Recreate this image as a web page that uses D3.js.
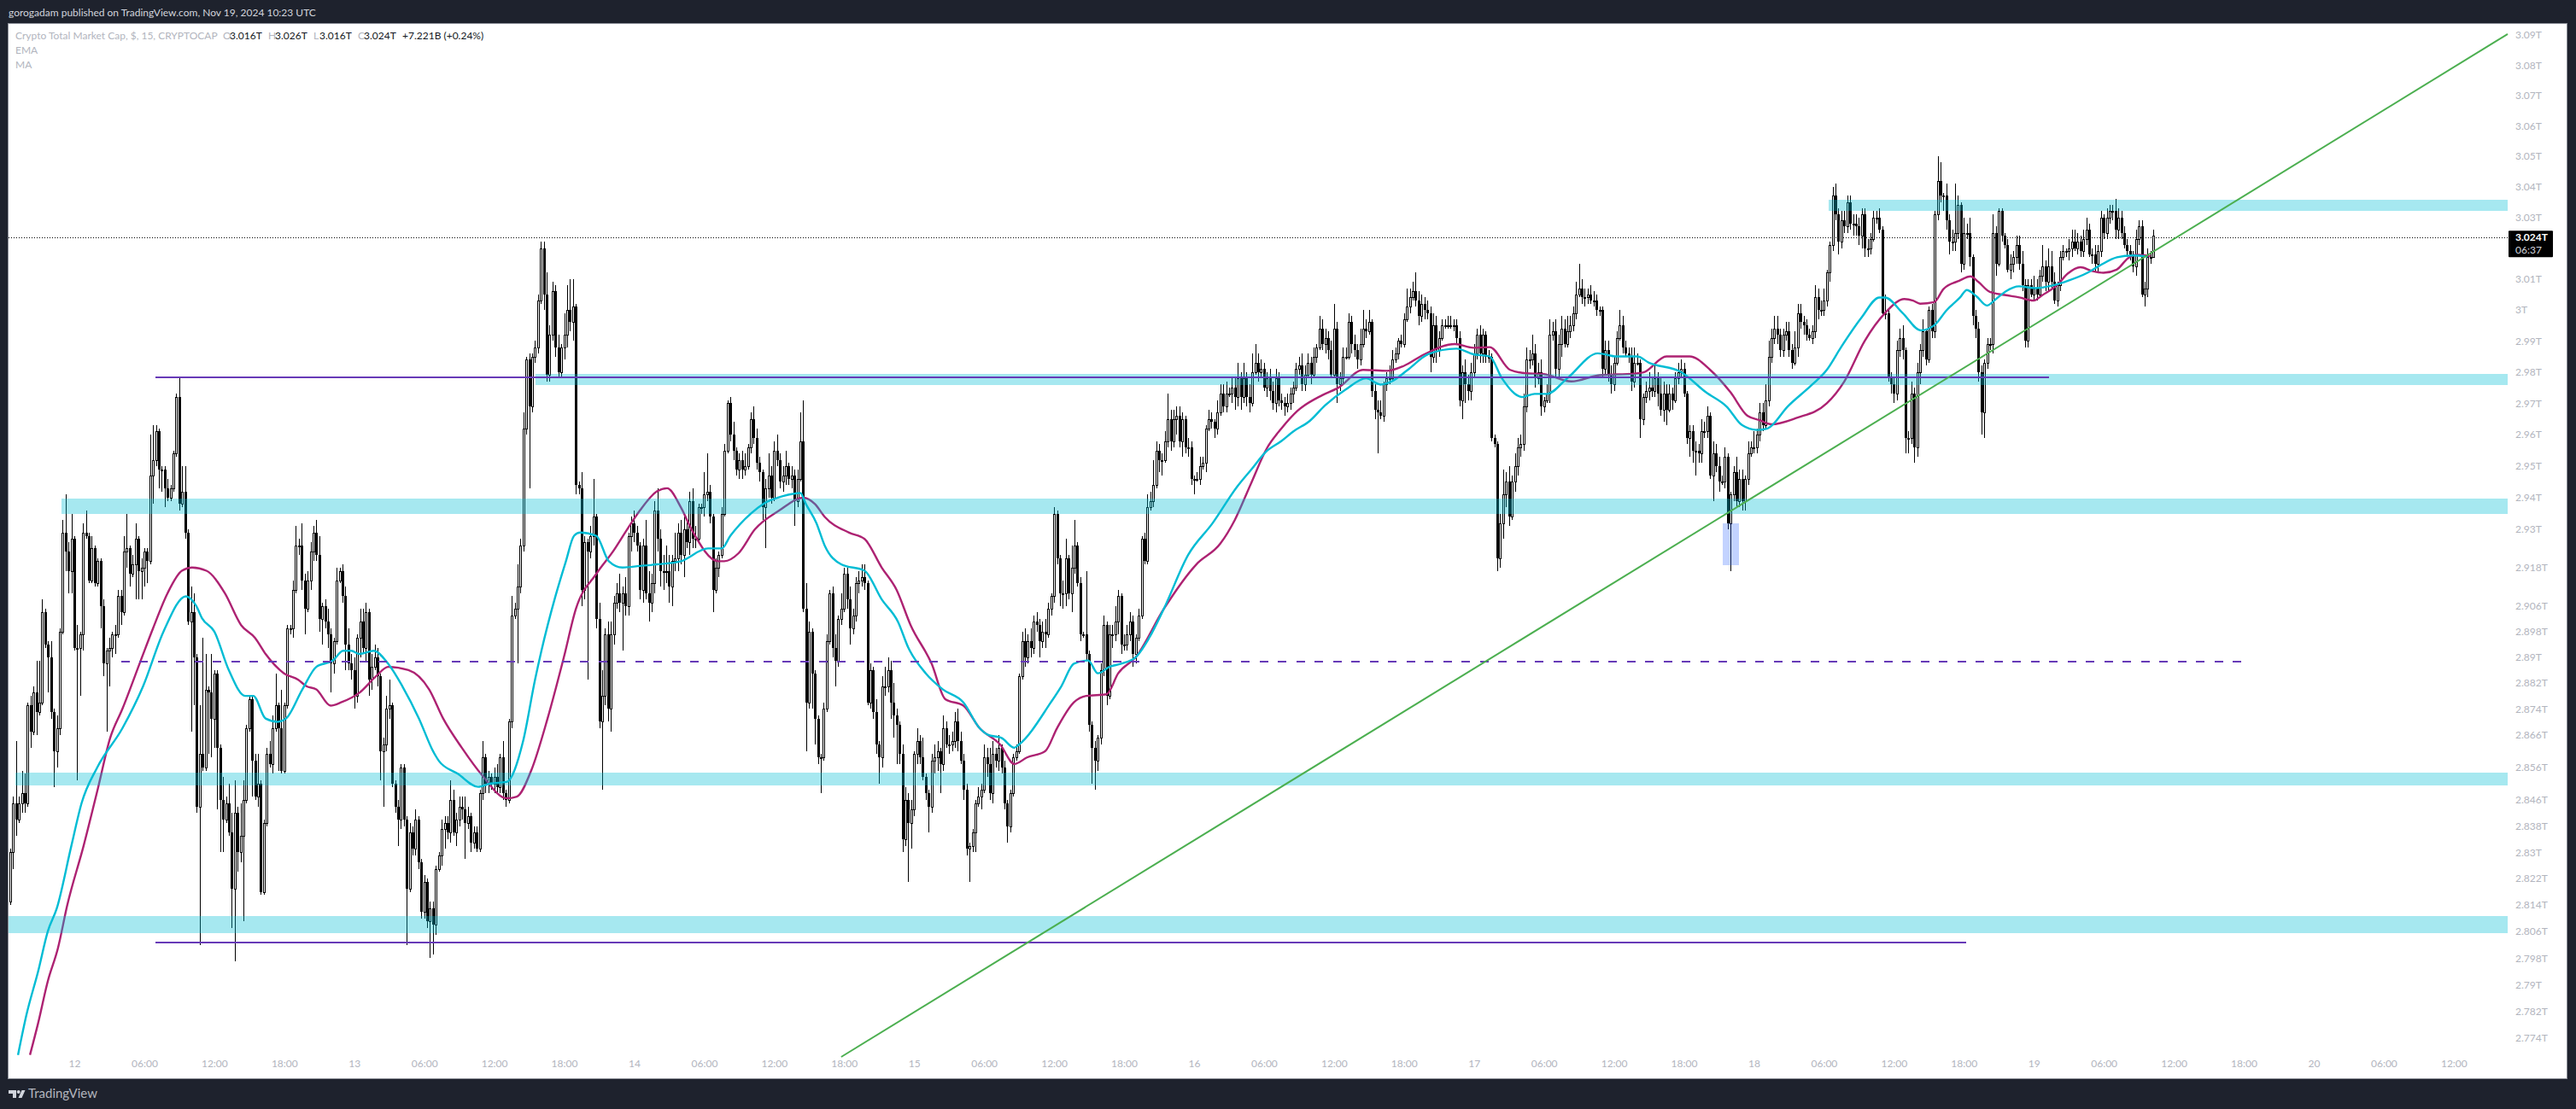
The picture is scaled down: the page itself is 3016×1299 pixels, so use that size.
<!DOCTYPE html>
<html>
<head>
<meta charset="utf-8">
<script src="https://cdn.jsdelivr.net/npm/d3@7"></script>
<style>
  html, body { margin: 0; background: #1e222d; }
  svg { display: block; }
  text { font-family: Lato, "Noto Sans", sans-serif; font-size: 12px; }
</style>
</head>
<body>
<div class="chart"></div>
<script>
// all prices in billions, one bar = 15 minutes, first bar Nov 11 18:30
const firstOpen = 2815;
const closes = [
2830,2845,2840,2845,2848,2845,2875,2867,2879,2873,2876,2904,2894,2890,2873,2861,2868,2898,2929,2923,
2917,2927,2893,2893,2897,2929,2928,2914,2924,2913,2920,2906,2888,2892,2893,2897,2897,2909,2904,2923,
2924,2916,2919,2927,2917,2918,2923,2920,2947,2952,2961,2949,2949,2943,2940,2943,2954,2972,2938,2942,
2929,2901,2904,2890,2844,2860,2856,2880,2879,2871,2885,2862,2846,2840,2845,2836,2819,2842,2830,2835,
2846,2868,2877,2858,2847,2851,2818,2839,2860,2857,2868,2875,2868,2855,2875,2899,2899,2911,2925,2925,
2914,2905,2914,2923,2929,2922,2902,2906,2901,2897,2888,2895,2914,2917,2909,2894,2888,2886,2878,2896,
2901,2893,2904,2883,2887,2890,2884,2861,2863,2874,2875,2851,2844,2840,2856,2840,2819,2836,2831,2840,
2827,2812,2821,2809,2813,2808,2825,2829,2837,2839,2836,2846,2836,2840,2844,2843,2839,2841,2833,2836,
2831,2848,2859,2851,2853,2851,2853,2850,2859,2848,2846,2870,2903,2905,2912,2925,2962,2984,2969,2985,
2988,3003,3020,3005,2979,2992,3006,2988,2980,2988,2992,3000,2996,3001,2944,2943,2911,2926,2923,2928,
2934,2902,2870,2878,2897,2874,2897,2907,2910,2907,2910,2906,2928,2932,2929,2925,2911,2925,2910,2907,
2913,2936,2927,2917,2917,2917,2912,2920,2921,2929,2922,2930,2926,2939,2927,2927,2937,2937,2941,2942,
2934,2911,2918,2922,2935,2955,2970,2960,2955,2949,2952,2949,2950,2956,2965,2959,2951,2948,2937,2943,
2947,2940,2955,2952,2945,2947,2950,2946,2947,2939,2946,2958,2905,2876,2898,2885,2871,2859,2859,2874,
2895,2910,2893,2889,2902,2905,2916,2908,2899,2903,2913,2914,2915,2913,2876,2886,2873,2863,2859,2881,
2881,2886,2876,2872,2869,2860,2834,2846,2839,2843,2860,2864,2859,2853,2848,2844,2858,2859,2861,2857,
2868,2863,2863,2864,2870,2864,2858,2849,2831,2832,2836,2845,2847,2849,2859,2857,2848,2860,2858,2862,
2856,2845,2838,2848,2859,2861,2884,2895,2890,2895,2893,2901,2900,2895,2898,2897,2905,2909,2935,2921,
2910,2910,2921,2910,2918,2925,2913,2897,2897,2891,2869,2862,2858,2865,2886,2900,2878,2897,2897,2901,
2909,2894,2894,2897,2901,2891,2896,2903,2927,2920,2937,2939,2944,2955,2952,2952,2958,2965,2958,2965,
2966,2958,2965,2956,2956,2946,2946,2946,2950,2951,2962,2965,2964,2962,2967,2973,2969,2973,2973,2975,
2972,2978,2972,2978,2972,2970,2980,2983,2980,2981,2975,2978,2974,2970,2978,2971,2970,2969,2970,2973,
2975,2981,2982,2976,2979,2983,2979,2985,2988,2994,2989,2991,2987,2979,2994,2976,2978,2985,2985,2996,
2989,2987,2984,2989,2994,2993,2996,2974,2968,2967,2966,2976,2978,2978,2984,2986,2990,2989,2997,3001,
3004,3006,3003,2998,3002,3000,2999,2985,2995,2987,2991,2995,2995,2995,2995,2995,2991,2971,2980,2976,
2974,2980,2986,2992,2986,2992,2985,2985,2959,2957,2921,2932,2941,2945,2934,2945,2950,2956,2957,2969,
2984,2984,2986,2978,2980,2969,2971,2973,2992,2993,2981,2989,2994,2989,2993,2995,2999,3005,3007,3004,
3004,3005,3003,3003,3000,3000,2981,2987,2979,2976,2983,2991,2995,2988,2986,2985,2977,2983,2983,2965,
2972,2974,2975,2974,2978,2973,2968,2973,2968,2973,2971,2978,2980,2981,2973,2959,2961,2955,2955,2954,
2961,2961,2966,2947,2954,2950,2945,2945,2953,2932,2941,2948,2939,2946,2939,2946,2954,2956,2956,2960,
2967,2963,2971,2985,2991,2994,2992,2987,2992,2993,2987,2983,2988,2999,2996,2995,2992,2991,2993,3004,
3000,3000,3003,3012,3021,3037,3031,3022,3029,3027,3035,3028,3028,3027,3024,3031,3020,3020,3023,3030,
3030,3026,2999,2999,2978,2976,2973,2987,2991,2987,2959,2959,2973,2956,2980,2987,2993,2984,3000,2993,
3031,3042,3037,3037,3029,3022,3022,3025,3034,3015,3025,3025,3017,2998,2994,2980,2967,2983,2989,2989,
3025,3015,3032,3024,3021,3013,3015,3017,3021,3015,3008,2990,3008,3005,3007,3005,3011,3014,3009,3014,
3009,3003,3008,3017,3019,3019,3020,3022,3020,3022,3019,3023,3026,3018,3018,3015,3019,3030,3025,3030,
3032,3032,3026,3030,3025,3021,3019,3018,3014,3023,3027,3005,3007,3017,3017,3024
];
const upperWicks = [
1,2,19,2,7,6,1,3,2,10,13,4,1,1,5,1,4,1,4,12,
3,8,1,7,1,3,7,1,4,1,1,1,2,1,3,1,3,2,2,5,
11,1,3,5,1,3,1,1,13,11,2,1,1,1,3,1,1,1,6,8,
8,1,8,6,1,15,36,11,1,12,1,1,1,7,2,6,6,10,2,10,
6,1,1,1,2,9,1,1,2,4,4,10,1,12,1,1,1,3,6,2,
7,2,3,3,2,4,6,1,2,4,2,1,4,1,2,3,5,3,4,1,
4,4,3,1,4,4,3,1,2,4,8,1,1,2,1,1,1,3,2,3,
1,1,2,1,2,2,1,1,3,2,2,6,3,2,3,3,4,3,1,2,
2,1,5,1,2,1,3,4,1,5,1,1,6,2,7,2,5,1,2,1,
2,2,2,2,7,3,3,2,4,1,7,8,10,9,1,1,5,2,1,3,
12,1,5,8,2,4,4,2,3,6,2,5,1,2,4,2,1,2,8,7,
3,3,7,3,5,8,5,2,8,3,4,4,3,3,4,4,1,1,7,12,
2,1,3,1,2,2,1,2,4,1,2,3,4,1,2,4,3,2,1,3,
7,3,3,5,2,3,5,1,3,2,3,9,13,8,3,1,1,1,1,2,
2,1,2,4,1,5,2,2,4,2,2,3,4,4,1,2,1,4,1,3,
6,4,3,6,2,1,3,4,2,3,1,4,2,6,1,1,2,4,3,1,
4,2,3,3,3,4,3,2,2,1,1,1,3,2,4,3,5,4,2,4,
1,2,1,1,1,2,1,3,4,2,4,2,3,2,3,4,2,1,2,1,
1,4,6,1,7,8,1,2,1,20,1,1,2,1,2,3,1,3,3,5,
2,1,3,3,3,2,1,2,1,2,4,3,8,3,2,2,3,8,3,3,
3,3,2,1,3,2,1,2,3,2,1,3,2,1,4,3,3,4,2,3,
3,5,2,5,2,4,6,6,3,3,2,2,3,3,3,2,2,2,3,2,
2,2,3,4,3,3,2,3,1,4,3,3,2,3,8,2,2,3,3,3,
2,3,2,5,6,3,4,1,2,3,4,1,2,4,3,2,1,2,2,6,
3,3,6,3,3,2,3,2,4,3,2,2,2,3,3,2,2,2,2,4,
3,3,3,2,3,2,1,2,1,1,1,3,8,3,5,2,4,3,3,4,
4,3,6,3,3,4,1,3,5,3,4,3,4,3,5,3,2,4,8,3,
3,2,3,3,2,1,1,3,3,3,2,2,5,3,2,2,3,5,3,1,
1,3,5,3,5,2,5,4,3,3,2,2,3,3,2,1,2,2,3,2,
4,3,3,1,4,3,3,2,3,1,1,2,5,3,3,1,4,2,5,2,
3,3,5,5,3,4,4,2,2,3,3,2,5,3,3,2,2,2,2,4,
3,3,4,1,1,3,4,2,3,3,2,2,3,3,3,2,2,3,2,2,
2,3,1,6,1,2,2,3,3,4,1,2,4,2,3,2,4,1,1,2,
1,8,6,1,4,2,4,16,3,1,5,3,5,1,2,2,2,1,2,2,
6,2,1,1,1,2,3,2,3,3,4,2,2,2,4,3,2,7,2,6,
5,3,1,2,2,1,3,4,4,3,2,3,4,2,2,3,2,2,1,3,
2,2,4,3,2,2,2,2,1,3,2,2,2,3,2,2
];
const lowerWicks = [
1,5,5,1,3,3,1,5,1,7,1,1,1,11,2,11,5,2,1,6,
7,7,1,41,15,5,1,1,1,1,1,7,4,21,11,3,6,1,4,1,
5,4,1,11,9,9,6,7,1,9,2,6,7,6,1,1,1,1,2,1,
2,1,34,15,2,42,1,1,19,12,9,19,16,10,1,1,12,22,6,3,
26,1,1,11,1,3,1,1,1,1,3,1,13,1,1,1,2,3,1,3,
3,8,1,3,3,2,4,8,2,4,9,3,1,1,2,8,2,3,4,2,
6,2,4,5,3,1,3,9,17,2,3,1,2,8,3,2,17,1,2,2,
2,2,2,2,11,9,3,1,3,6,2,3,1,4,2,3,11,2,3,2,
1,1,2,3,3,2,3,2,2,2,2,1,2,1,17,2,2,2,26,2,
2,2,1,5,2,2,2,3,2,2,4,4,3,6,3,2,5,3,40,2,
3,3,2,21,3,4,7,3,2,3,15,3,3,5,3,2,3,4,2,6,
3,3,4,5,6,4,5,6,3,4,3,7,2,4,3,3,1,2,3,2,
2,7,1,3,1,1,1,2,3,2,3,3,2,1,2,2,2,3,4,13,
3,2,1,2,2,3,3,2,3,8,2,1,1,15,2,11,8,2,11,1,
1,1,3,8,2,2,1,3,5,2,2,3,2,2,1,2,2,3,8,3,
3,2,5,7,12,3,4,2,18,8,2,3,2,1,2,8,2,4,4,9,
2,1,3,2,2,3,1,3,2,10,2,6,1,4,1,4,2,3,2,3,
2,2,5,2,1,1,1,1,3,2,3,2,2,5,2,4,1,2,2,2,
4,5,4,2,6,2,1,2,1,2,2,11,9,3,2,2,3,1,4,2,
4,3,2,2,2,4,3,1,1,1,1,1,2,1,4,5,1,2,3,2,
5,2,5,2,3,2,5,1,2,1,3,1,2,3,2,1,2,2,1,3,
4,3,4,2,3,3,1,1,3,2,1,3,3,2,3,2,2,3,2,2,
3,1,2,2,2,1,3,1,2,1,2,3,3,1,1,6,2,2,1,1,
3,2,3,2,1,2,1,2,3,13,1,2,2,2,1,1,2,1,1,1,
2,1,2,3,2,3,2,5,2,4,2,1,1,1,1,2,2,2,6,6,
3,3,2,2,3,3,2,2,1,1,4,3,5,4,3,1,3,3,3,2,
2,3,2,3,2,3,2,1,3,2,3,3,4,1,1,2,2,2,1,2,
3,2,1,2,2,2,3,2,2,3,2,1,1,2,1,2,3,2,1,6,
2,2,3,2,2,4,2,4,5,1,3,1,2,2,1,2,6,4,8,3,
3,2,2,1,8,2,3,1,2,2,15,2,2,2,3,3,2,1,2,2,
2,2,1,2,2,2,3,2,2,2,2,2,1,3,2,3,2,1,2,2,
3,2,2,2,3,2,2,4,2,2,2,2,4,3,3,4,3,3,2,1,
2,1,1,2,1,3,3,2,2,3,5,5,2,5,3,4,2,2,1,2,
2,2,2,5,3,4,3,3,2,3,2,2,3,3,3,3,7,8,2,2,
3,4,1,2,1,1,3,3,2,2,2,2,2,1,2,2,1,2,3,3,
2,1,2,2,1,2,3,3,1,2,2,2,2,1,3,3,3,2,2,2,
2,3,3,3,2,1,2,2,2,3,2,1,4,3,2,0
];

const emaBars = [2.7,5.6,9.6,12.9,16,21,24.5,29.9,38.5,45.6,52.6,60.3,63.8,65.9,70,75,80.6,83.4,87.6,91.8,94.6,100.2,105,110.7,114.2,117,119.8,124.7,129.6,134.5,140.2,145,147,153.5,160.5,164.7,170.3,175.9,180,182.2,187,190.6,193.4,195.5,201,205.3,210,216,221.8,230,239.3,244,247,254,258.2,265,271,272.9,276.5,279.3,285,293,298.9,304.5,308,314,319.9,326.9,332.5,335.3,340,344.4,346,356.9,360.5,364.8,369.7,373,377,381,386,390.6,395.6,404,412.4,420.8,425.7,430.6,436,440,445.7,451,458,465,470,473.8,479.3,486.3,496,501.8,507.4,511.6,518.6,522.8,527,534,544.5,551,558,562,573,581.6,588.6,594,599,602.7,609.6,618,623,627.9,634.9,641,643,649,655.2,659.8,664.2,668.7,671,674.3,677.9,681,684.4,688.9,694.5,701,705.7,712.4,716.9,722.5,728,733];
const emaValues = [2769,2781,2794,2806,2813,2832,2845,2856,2868,2881,2898,2909,2906,2902,2898,2886,2878,2878,2871,2870,2871,2880,2887,2889,2892,2892,2891,2892,2888,2881,2871,2861,2858,2854,2850,2851,2851.5,2864,2883,2892,2909,2920,2928,2929,2928,2920,2918,2918.5,2919,2920,2924,2924,2928,2935,2938,2940.5,2941.5,2938,2932,2925,2919,2917,2908,2901,2893,2885,2880,2876,2868,2866,2865,2862,2863,2876,2881,2888,2889,2885,2887,2888,2890,2896,2905,2922,2932,2943.5,2949,2954.5,2958,2961,2964.4,2969.4,2974.4,2978,2976,2977,2980.7,2985.7,2987.5,2985.7,2985,2978,2972,2973,2973,2978,2986,2985,2985,2983,2980,2973.5,2969,2963,2961.5,2962,2969,2976,2980.7,2988,2997.5,3004,3004,2999,2993.4,2995,3000,3004,3006.4,3004.4,3001.4,3003.5,3006,3007.6,3007,3008,3009.4,3012,3014.5,3017,3017.6,3017.2];
const maBars = [6.8,9.6,12.9,16.4,19.6,25.2,30.1,34.3,38.5,44.8,49,54,58.9,62.4,67.3,73.6,79.2,84,87.6,93.9,98.8,101.6,105,109.9,113.5,119.8,125.4,129.6,136.6,143.7,148.5,154.9,161.9,170.3,173.8,178.7,184.3,189.9,194,201,206.7,211.6,216,221.8,225.3,230,233.7,242.8,244.9,249.8,255.4,263.8,272,276,279.3,287.7,293,298.9,304,308.8,316,320.7,326.9,332.5,339.5,344.4,348.7,355,359,364.8,369,376,380,386,395.6,406.8,415,420,425.3,431,436,441.5,450,455.5,464,472.3,478,485,495.5,501.8,507.4,514.4,520,525.6,535.4,545,557,560.4,568,576,583,590,595.8,600,604,612.5,623,629,636,643,649.6,652.6,655,659.8,663,668.4,672.3,675,678.9,684,689,693.9,697,702,705.6,710,713.9,717.9,722.4,726.3,729,734];
const maValues = [2769,2778.5,2791,2801,2814,2832,2849.5,2865,2874,2889,2899,2910,2917,2918,2917,2910,2900,2896,2891,2885,2883,2881,2880,2875,2876,2879,2884,2887,2886,2880,2871,2862,2853.5,2846.5,2847,2855,2871,2890,2905,2916,2923,2930,2936,2942,2943,2937,2930,2920,2920,2922.5,2930,2936,2940,2938,2934,2929,2927,2918,2911,2900,2888,2877,2875,2868,2863,2857,2859,2861,2868,2876,2878,2878.5,2885,2890,2905,2919,2925.5,2933,2944,2955.7,2962,2967.6,2972.6,2975,2980.7,2980.4,2982,2985.7,2989,2987.8,2988,2980.7,2979.6,2979.4,2977,2979,2979.5,2980,2985,2985,2980.7,2973.5,2966,2964.6,2963.3,2965.3,2970,2977,2990,2999,3003.5,3003,3002,3002.5,3006.7,3009.4,3010.8,3009,3005.8,3004.8,3004,3003,3004.8,3008,3011.7,3013.8,3012.6,3012,3013,3016.7,3017.8,3017.4];

const priceTicks = [3090,3080,3070,3060,3050,3040,3030,3010,3000,2990,2980,2970,2960,2950,2940,2930,2918,2906,2898,2890,2882,2874,2866,2856,2846,2838,2830,2822,2814,2806,2798,2790,2782,2774];
const timeLabels = ['12','06:00','12:00','18:00','13','06:00','12:00','18:00','14','06:00','12:00','18:00','15','06:00','12:00','18:00','16','06:00','12:00','18:00','17','06:00','12:00','18:00','18','06:00','12:00','18:00','19','06:00','12:00','18:00','20','06:00','12:00'];

// drawings, [lowPrice, highPrice, startBar]
const zonePrices = [[3032.1,3035.7],[2975.9,2979.5],[2935,2939.7],[2850.4,2854.4],[2805.5,2810.6]];
const zoneStarts = [623.7,180.2,17.6,1.8,-0.55];
const flatLevels = [2978.3,2802.8];
const flatStarts = [49.8,49.8];
const flatEnds = [699.2,670.8];
const dashedLevel = 2888.6;
const dashedBars = [38,768.6];
const trendBars = [285,856.5];
const trendPrices = [2768.4,3090.3];
const boxBars = [587.3,592.9];
const boxPrices = [2918.8,2931.9];
const lastPrice = 3023.4;

const width = 3016, height = 1299;
const plot = { left: 10, right: 3005, axis: 2936, top: 28, bottom: 1263 };

const bars = closes.map((close, i) => {
  const open = i === 0 ? firstOpen : closes[i - 1];
  return {
    i, open, close,
    high: Math.max(open, close) + upperWicks[i],
    low: Math.min(open, close) - lowerWicks[i]
  };
});

const x = d3.scaleLinear().domain([-0.55, 856.5]).range([plot.left, plot.axis]);
const y = d3.scaleLog().domain([3090, 2774]).range([41, 1216]);

const svg = d3.select('.chart').append('svg')
  .attr('width', width)
  .attr('height', height);

svg.append('rect')
  .attr('x', plot.left - 0.5)
  .attr('y', plot.top - 0.5)
  .attr('width', plot.right - plot.left + 1)
  .attr('height', plot.bottom - plot.top + 1)
  .attr('fill', '#fff')
  .attr('stroke', '#8a8d96');

// last price line sits under the candles
svg.append('line')
  .attr('x1', plot.left).attr('x2', plot.axis)
  .attr('y1', Math.round(y(lastPrice)) + 0.5).attr('y2', Math.round(y(lastPrice)) + 0.5)
  .attr('stroke', '#000')
  .attr('stroke-dasharray', '1 2');

const candles = svg.append('g').attr('shape-rendering', 'crispEdges');

candles.selectAll('line')
  .data(bars)
  .enter().append('line')
  .attr('x1', d => Math.round(x(d.i)) + 0.5)
  .attr('x2', d => Math.round(x(d.i)) + 0.5)
  .attr('y1', d => y(d.high))
  .attr('y2', d => y(d.low))
  .attr('stroke', '#000');

// up bars are hollow, down bars solid
candles.selectAll('rect.up')
  .data(bars.filter(d => d.close >= d.open))
  .enter().append('rect')
  .attr('class', 'up')
  .attr('x', d => Math.round(x(d.i)) - 0.5)
  .attr('width', 2)
  .attr('y', d => Math.round(y(d.close)) + 0.5)
  .attr('height', d => Math.max(1, Math.round(y(d.open)) - Math.round(y(d.close))))
  .attr('fill', '#fff')
  .attr('stroke', '#000');

candles.selectAll('rect.down')
  .data(bars.filter(d => d.close < d.open))
  .enter().append('rect')
  .attr('class', 'down')
  .attr('x', d => Math.round(x(d.i)) - 1)
  .attr('width', 3)
  .attr('y', d => Math.round(y(d.open)))
  .attr('height', d => Math.max(2, Math.round(y(d.close)) - Math.round(y(d.open))))
  .attr('fill', '#000');

const line = d3.line()
  .x(d => x(d[0]))
  .y(d => y(d[1]))
  .curve(d3.curveMonotoneX);

svg.append('path')
  .attr('d', line(d3.zip(maBars, maValues)))
  .attr('fill', 'none')
  .attr('stroke', '#ad2272')
  .attr('stroke-width', 2.4);

svg.append('path')
  .attr('d', line(d3.zip(emaBars, emaValues)))
  .attr('fill', 'none')
  .attr('stroke', '#00bcd4')
  .attr('stroke-width', 2.4);

const overlays = svg.append('g').attr('shape-rendering', 'crispEdges');

overlays.selectAll('rect.zone')
  .data(zonePrices)
  .enter().append('rect')
  .attr('class', 'zone')
  .attr('x', (d, i) => x(zoneStarts[i]))
  .attr('width', (d, i) => plot.axis - x(zoneStarts[i]))
  .attr('y', d => y(d[1]))
  .attr('height', d => y(d[0]) - y(d[1]))
  .attr('fill', '#00bcd4')
  .attr('fill-opacity', 0.35);

overlays.append('rect')
  .attr('x', x(boxBars[0]))
  .attr('width', x(boxBars[1]) - x(boxBars[0]))
  .attr('y', y(boxPrices[1]))
  .attr('height', y(boxPrices[0]) - y(boxPrices[1]))
  .attr('fill', '#2962ff')
  .attr('fill-opacity', 0.28);

overlays.selectAll('line.flat')
  .data(flatLevels)
  .enter().append('line')
  .attr('class', 'flat')
  .attr('x1', (d, i) => x(flatStarts[i]))
  .attr('x2', (d, i) => x(flatEnds[i]))
  .attr('y1', d => Math.round(y(d)))
  .attr('y2', d => Math.round(y(d)))
  .attr('stroke', '#673ab7')
  .attr('stroke-width', 2);

overlays.append('line')
  .attr('x1', x(dashedBars[0])).attr('x2', x(dashedBars[1]))
  .attr('y1', Math.round(y(dashedLevel))).attr('y2', Math.round(y(dashedLevel)))
  .attr('stroke', '#673ab7')
  .attr('stroke-width', 2)
  .attr('stroke-dasharray', '10 11.5');

svg.append('line')
  .attr('x1', x(trendBars[0])).attr('x2', x(trendBars[1]))
  .attr('y1', y(trendPrices[0])).attr('y2', y(trendPrices[1]))
  .attr('stroke', '#4caf50')
  .attr('stroke-width', 2);

// price axis
const yAxis = d3.axisRight(y)
  .tickValues(priceTicks)
  .tickSize(0)
  .tickPadding(9)
  .tickFormat(d => (d / 1000) + 'T');

svg.append('g')
  .attr('transform', `translate(${plot.axis},0)`)
  .call(yAxis)
  .call(g => g.select('.domain').remove())
  .call(g => g.selectAll('text').attr('fill', '#b2b5be').style('font-size', '12px').style('font-family', 'Lato'));

svg.append('rect')
  .attr('x', 2937).attr('y', y(lastPrice) - 8)
  .attr('width', 52).attr('height', 31)
  .attr('rx', 1)
  .attr('fill', '#000');
svg.append('text')
  .attr('x', 2945).attr('y', y(lastPrice) + 4)
  .attr('fill', '#fff')
  .attr('font-weight', 700)
  .text('3.024T');
svg.append('text')
  .attr('x', 2945).attr('y', y(lastPrice) + 19)
  .attr('fill', '#d1d4dc')
  .text('06:37');

// time axis, a label every 24 bars from midnight Nov 12
const xAxis = d3.axisBottom(x)
  .tickValues(timeLabels.map((d, i) => 22 + i * 24))
  .tickSize(0)
  .tickFormat((d, i) => timeLabels[i]);

svg.append('g')
  .attr('transform', 'translate(0,1238)')
  .call(xAxis)
  .call(g => g.select('.domain').remove())
  .call(g => g.selectAll('text').attr('fill', '#b2b5be').style('font-size', '12px').style('font-family', 'Lato'));

// legend
const legend = [
  [18, 46, 'Crypto Total Market Cap, $, 15, CRYPTOCAP', '#b2b5be'],
  [261, 46, 'O', '#b2b5be'], [269, 46, '3.016T', '#131722'],
  [314, 46, 'H', '#b2b5be'], [322, 46, '3.026T', '#131722'],
  [367, 46, 'L', '#b2b5be'], [374, 46, '3.016T', '#131722'],
  [419, 46, 'C', '#b2b5be'], [426, 46, '3.024T', '#131722'],
  [471, 46, '+7.221B (+0.24%)', '#131722'],
  [18, 63, 'EMA', '#b2b5be'],
  [18, 80, 'MA', '#b2b5be']
];
svg.selectAll('text.legend')
  .data(legend)
  .enter().append('text')
  .attr('class', 'legend')
  .attr('x', d => d[0])
  .attr('y', d => d[1])
  .attr('fill', d => d[3])
  .text(d => d[2]);

svg.append('text')
  .attr('x', 10).attr('y', 19)
  .attr('fill', '#d1d4dc')
  .text('gorogadam published on TradingView.com, Nov 19, 2024 10:23 UTC');

// logo
svg.append('path')
  .attr('d', 'M10 1277h9v9h-4v-5h-5z M25.5 1277h4l-4 9h-4z')
  .attr('fill', '#d1d4dc');
svg.append('circle')
  .attr('cx', 21.7).attr('cy', 1279).attr('r', 2)
  .attr('fill', '#d1d4dc');
svg.append('text')
  .attr('x', 33).attr('y', 1286)
  .attr('fill', '#b2b5be')
  .style('font-size', '15px')
  .text('TradingView');
</script>
</body>
</html>
